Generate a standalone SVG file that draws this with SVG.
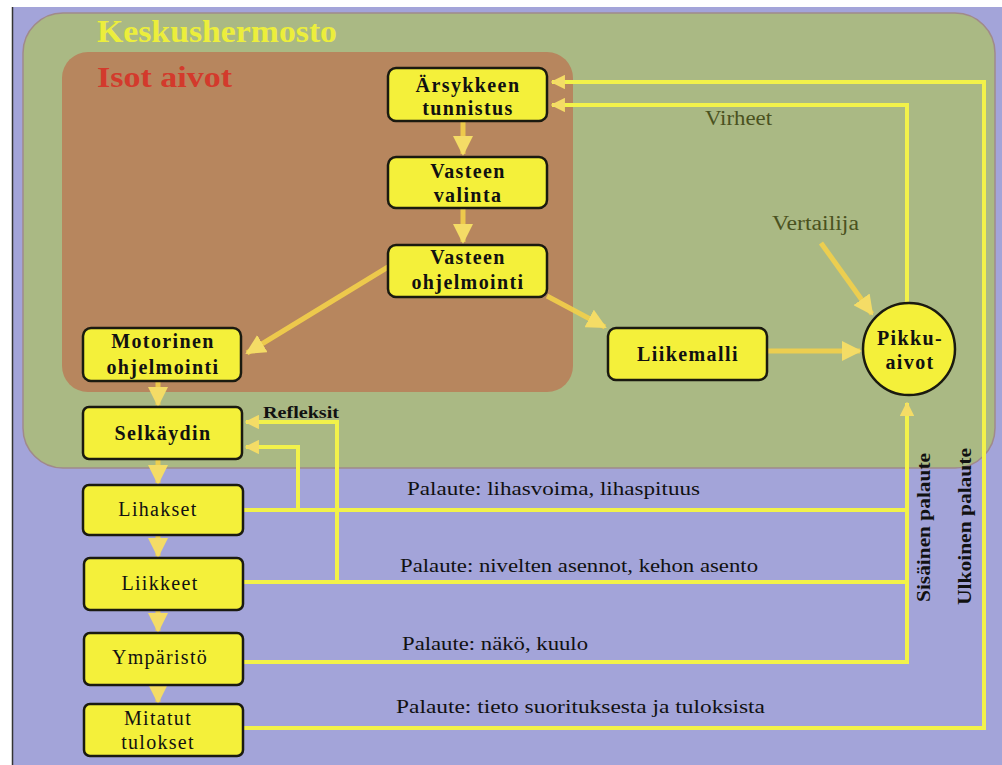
<svg xmlns="http://www.w3.org/2000/svg" width="1002" height="765" viewBox="0 0 1002 765" font-family="Liberation Serif, Times New Roman, serif">
<style>
.node rect,.node circle{fill:#f4f03a;stroke:#1a1a10;stroke-width:2.5}
.nt{font-family:'Liberation Serif',serif;font-weight:bold;font-size:20px;fill:#111;text-anchor:middle;letter-spacing:1.4px}
.nr{font-family:'Liberation Serif',serif;font-size:20px;fill:#111;text-anchor:middle;letter-spacing:1.3px}
.lbl{font-family:'Liberation Serif',serif;font-size:19px;fill:#111}
.olive{font-family:'Liberation Serif',serif;font-size:20px;fill:#4a5220}
.vert{font-family:'Liberation Serif',serif;font-weight:bold;font-size:18px;fill:#111}
.ln{fill:none;stroke:#f2f24a;stroke-width:4}
.ar{fill:none;stroke:#f3d04a;stroke-width:5;stroke-opacity:0.9}
</style>
<defs>
<marker id="ah" viewBox="0 0 10 10" refX="9" refY="5" markerWidth="4" markerHeight="4" orient="auto" markerUnits="strokeWidth">
<path d="M0,0 L10,5 L0,10 Z" fill="#f4dc66"/>
</marker>
<marker id="ah2" viewBox="0 0 10 10" refX="9" refY="5" markerWidth="3.6" markerHeight="3.6" orient="auto" markerUnits="strokeWidth">
<path d="M0,0 L10,5 L0,10 Z" fill="#f4dc66"/>
</marker>
</defs>
<rect x="0" y="0" width="1002" height="765" fill="#ffffff"/>
<rect x="12" y="7" width="990" height="758" fill="#a3a4d9"/>
<line x1="12.5" y1="7" x2="12.5" y2="765" stroke="#333" stroke-width="1.5"/>
<g id="keskushermosto">
<rect x="23" y="13" width="972" height="455" rx="40" fill="#aab984" stroke="#a08a8a" stroke-width="1.5"/>
<text x="97" y="42" font-family="Liberation Serif, serif" font-weight="bold" font-size="31" fill="#ecee3c" textLength="240" lengthAdjust="spacingAndGlyphs">Keskushermosto</text>
</g>
<g id="isot-aivot">
<rect x="62" y="52" width="511" height="340" rx="26" fill="#b7865e"/>
<text x="97" y="87" font-family="Liberation Serif, serif" font-weight="bold" font-size="30" fill="#d33a2c" textLength="135" lengthAdjust="spacingAndGlyphs">Isot aivot</text>
</g>
<g id="connectors">
<line class="ar" x1="463" y1="122" x2="463" y2="154" marker-end="url(#ah)"/>
<line class="ar" x1="463" y1="209" x2="463" y2="242" marker-end="url(#ah)"/>
<line class="ar" x1="388" y1="267" x2="247" y2="353" marker-end="url(#ah)"/>
<line class="ar" x1="547" y1="296" x2="605" y2="327" marker-end="url(#ah)"/>
<line class="ar" x1="767" y1="351" x2="860" y2="351" marker-end="url(#ah)"/>
<line class="ar" x1="821" y1="243" x2="872" y2="314" marker-end="url(#ah)" stroke="#eeee6a"/>
<line class="ar" x1="158" y1="382" x2="158" y2="405" marker-end="url(#ah)"/>
<line class="ar" x1="158" y1="460" x2="158" y2="483" marker-end="url(#ah)"/>
<line class="ar" x1="158" y1="536" x2="158" y2="556" marker-end="url(#ah)"/>
<line class="ar" x1="158" y1="611" x2="158" y2="631" marker-end="url(#ah)"/>
<line class="ar" x1="158" y1="686" x2="158" y2="702" marker-end="url(#ah)"/>
<polyline class="ln" points="243,510 907,510"/>
<polyline class="ln" points="243,582 907,582"/>
<polyline class="ln" points="243,662 907,662 907,403" marker-end="url(#ah2)"/>
<polyline class="ln" points="243,728 984,728 984,82 552,82" marker-end="url(#ah2)"/>
<polyline class="ln" points="907,302 907,105 552,105" marker-end="url(#ah2)"/>
<polyline class="ln" points="298,510 298,447 246,447" marker-end="url(#ah2)"/>
<polyline class="ln" points="337,582 337,422 246,422" marker-end="url(#ah2)"/>
</g>
<g id="n-arsyke" class="node">
<rect x="388" y="68" width="159" height="53" rx="8"/>
<text class="nt" x="468" y="92">Ärsykkeen</text>
<text class="nt" x="468" y="115">tunnistus</text>
</g>
<g id="n-valinta" class="node">
<rect x="388" y="157" width="159" height="51" rx="8"/>
<text class="nt" x="468" y="178">Vasteen</text>
<text class="nt" x="468" y="202">valinta</text>
</g>
<g id="n-ohjelmointi" class="node">
<rect x="388" y="245" width="159" height="52" rx="8"/>
<text class="nt" x="468" y="264">Vasteen</text>
<text class="nt" x="468" y="289">ohjelmointi</text>
</g>
<g id="n-motorinen" class="node">
<rect x="83" y="328" width="158" height="53" rx="8"/>
<text class="nt" x="163" y="348">Motorinen</text>
<text class="nt" x="163" y="374">ohjelmointi</text>
</g>
<g id="n-liikemalli" class="node">
<rect x="608" y="328" width="159" height="52" rx="8"/>
<text class="nt" x="688" y="361">Liikemalli</text>
</g>
<g id="n-pikkuaivot" class="node">
<circle cx="909" cy="349" r="46"/>
<text class="nt" x="910" y="345">Pikku-</text>
<text class="nt" x="910" y="369">aivot</text>
</g>
<g id="n-selkaydin" class="node">
<rect x="83" y="407" width="159" height="52" rx="6"/>
<text class="nt" x="163" y="440">Selkäydin</text>
</g>
<g id="n-lihakset" class="node">
<rect x="83" y="485" width="160" height="50" rx="6"/>
<text class="nr" x="158" y="516">Lihakset</text>
</g>
<g id="n-liikkeet" class="node">
<rect x="84" y="558" width="159" height="52" rx="6"/>
<text class="nr" x="160" y="590">Liikkeet</text>
</g>
<g id="n-ymparisto" class="node">
<rect x="84" y="633" width="159" height="52" rx="6"/>
<text class="nr" x="160" y="664">Ympäristö</text>
</g>
<g id="n-mitatut" class="node">
<rect x="84" y="704" width="159" height="52" rx="6"/>
<text class="nr" x="158" y="725">Mitatut</text>
<text class="nr" x="158" y="749">tulokset</text>
</g>
<g id="labels">
<text class="olive" x="705" y="125" textLength="67" lengthAdjust="spacingAndGlyphs">Virheet</text>
<text class="olive" x="772" y="230" textLength="87" lengthAdjust="spacingAndGlyphs">Vertailija</text>
<text x="263" y="418" font-family="Liberation Serif, serif" font-weight="bold" font-size="17" fill="#111" textLength="76" lengthAdjust="spacingAndGlyphs">Refleksit</text>
<text class="lbl" x="407" y="495" textLength="293" lengthAdjust="spacingAndGlyphs">Palaute:  lihasvoima, lihaspituus</text>
<text class="lbl" x="400" y="572" textLength="358" lengthAdjust="spacingAndGlyphs">Palaute: nivelten asennot, kehon asento</text>
<text class="lbl" x="402" y="650" textLength="186" lengthAdjust="spacingAndGlyphs">Palaute: näkö, kuulo</text>
<text class="lbl" x="396" y="713" textLength="369" lengthAdjust="spacingAndGlyphs">Palaute: tieto suorituksesta ja tuloksista</text>
<text class="vert" transform="translate(930,602) rotate(-90)" textLength="149" lengthAdjust="spacingAndGlyphs">Sisäinen palaute</text>
<text class="vert" transform="translate(971,605) rotate(-90)" textLength="157" lengthAdjust="spacingAndGlyphs">Ulkoinen palaute</text>
</g>
</svg>
